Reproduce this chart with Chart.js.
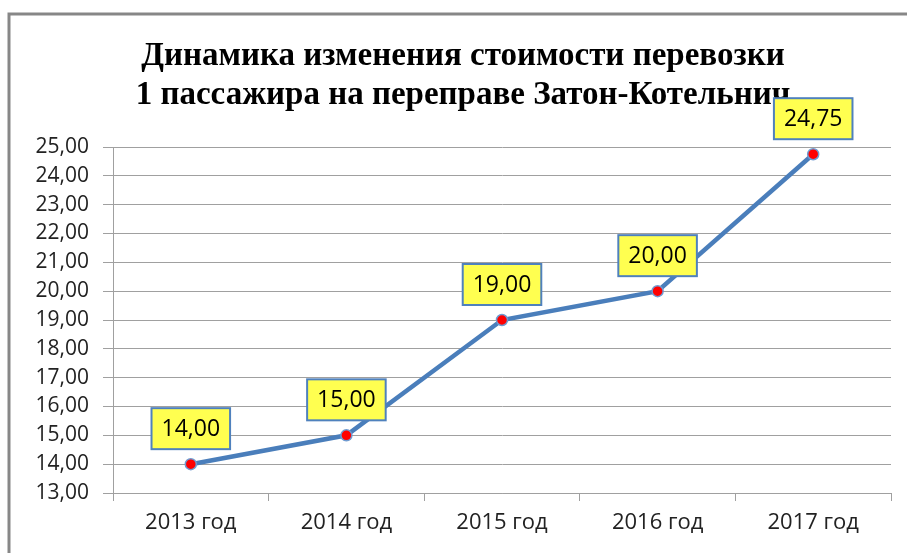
<!DOCTYPE html>
<html>
<head>
<meta charset="utf-8">
<script src="https://cdn.jsdelivr.net/npm/chart.js@4.4.1/dist/chart.umd.min.js"></script>
<style>
  html, body { margin: 0; padding: 0; background: #fff; }
  #wrap { width: 907px; height: 553px; position: relative; }
</style>
</head>
<body>
<div id="wrap"><canvas id="perevozka"></canvas></div>
<script>
const years = ['2013 год', '2014 год', '2015 год', '2016 год', '2017 год'];
const prices = [14.00, 15.00, 19.00, 20.00, 24.75];
const titleLines = ['Динамика изменения стоимости перевозки', '1 пассажира на переправе Затон-Котельнич'];

const fmt = (v) => v.toFixed(2).replace('.', ',');

// white background, frame and the two-line title
const backdrop = {
	id: 'backdrop',
	beforeDraw(chart) {
		const c = chart.ctx;
		c.save();
		c.fillStyle = '#fff';
		c.fillRect(0, 0, chart.width, chart.height);
		c.strokeStyle = '#878787';
		c.lineWidth = 3;
		c.strokeRect(9, 14, 1000, 1000);
		c.fillStyle = '#000';
		c.font = 'bold 33px "Liberation Serif", "Times New Roman", "DejaVu Serif", serif';
		c.textAlign = 'center';
		c.textBaseline = 'alphabetic';
		c.fillText(titleLines[0], 463, 65);
		c.fillText(titleLines[1], 463, 104);
		c.restore();
	}
};

// yellow value boxes above each point
const valueBoxes = {
	id: 'valueBoxes',
	afterDatasetsDraw(chart) {
		const c = chart.ctx;
		const meta = chart.getDatasetMeta(0);
		c.save();
		c.font = '23px "Open Sans"';
		c.textAlign = 'center';
		c.textBaseline = 'middle';
		meta.data.forEach((pt, i) => {
			const txt = fmt(prices[i]);
			const w = c.measureText(txt).width + 20;
			const h = 41;
			const x = pt.x - w / 2;
			const y = pt.y - 15 - h;
			c.fillStyle = '#ffff50';
			c.fillRect(x, y, w, h);
			c.strokeStyle = '#4f81bd';
			c.lineWidth = 2;
			c.strokeRect(x, y, w, h);
			c.fillStyle = '#000';
			c.fillText(txt, pt.x, y + h / 2 + 1);
		});
		c.restore();
	}
};

const ctx = document.getElementById('perevozka').getContext('2d');

new Chart(ctx, {
	type: 'line',
	data: {
		labels: years,
		datasets: [
			{
				data: prices,
				borderColor: '#4a7ebb',
				borderWidth: 4.5,
				tension: 0,
				pointRadius: 5.5,
				pointBackgroundColor: '#ff0000',
				pointBorderColor: '#6f9bd1',
				pointBorderWidth: 1.5
			}
		]
	},
	options: {
		responsive: true,
		maintainAspectRatio: false,
		animation: false,
		layout: { padding: { top: 147, right: 16, left: 0, bottom: 0 } },
		plugins: {
			legend: { display: false },
			title: { display: false },
			tooltip: { enabled: false }
		},
		scales: {
			x: {
				offset: true,
				afterFit: (s) => { s.height = 60; },
				grid: {
					offset: true,
					drawOnChartArea: false,
					drawTicks: true,
					tickLength: 8,
					color: '#a0a0a0'
				},
				border: { color: '#a0a0a0', width: 1 },
				ticks: {
					color: '#222',
					padding: 9,
					font: { family: 'Open Sans', size: 22 }
				}
			},
			y: {
				min: 13,
				max: 25,
				afterFit: (s) => { s.width = 113; },
				grid: {
					color: '#a0a0a0',
					tickLength: 10
				},
				border: { color: '#a0a0a0', width: 1 },
				ticks: {
					stepSize: 1,
					padding: 14,
					color: '#222',
					font: { family: 'Open Sans', size: 21 },
					callback: (v) => fmt(v)
				}
			}
		}
	},
	plugins: [backdrop, valueBoxes]
});
</script>
</body>
</html>
